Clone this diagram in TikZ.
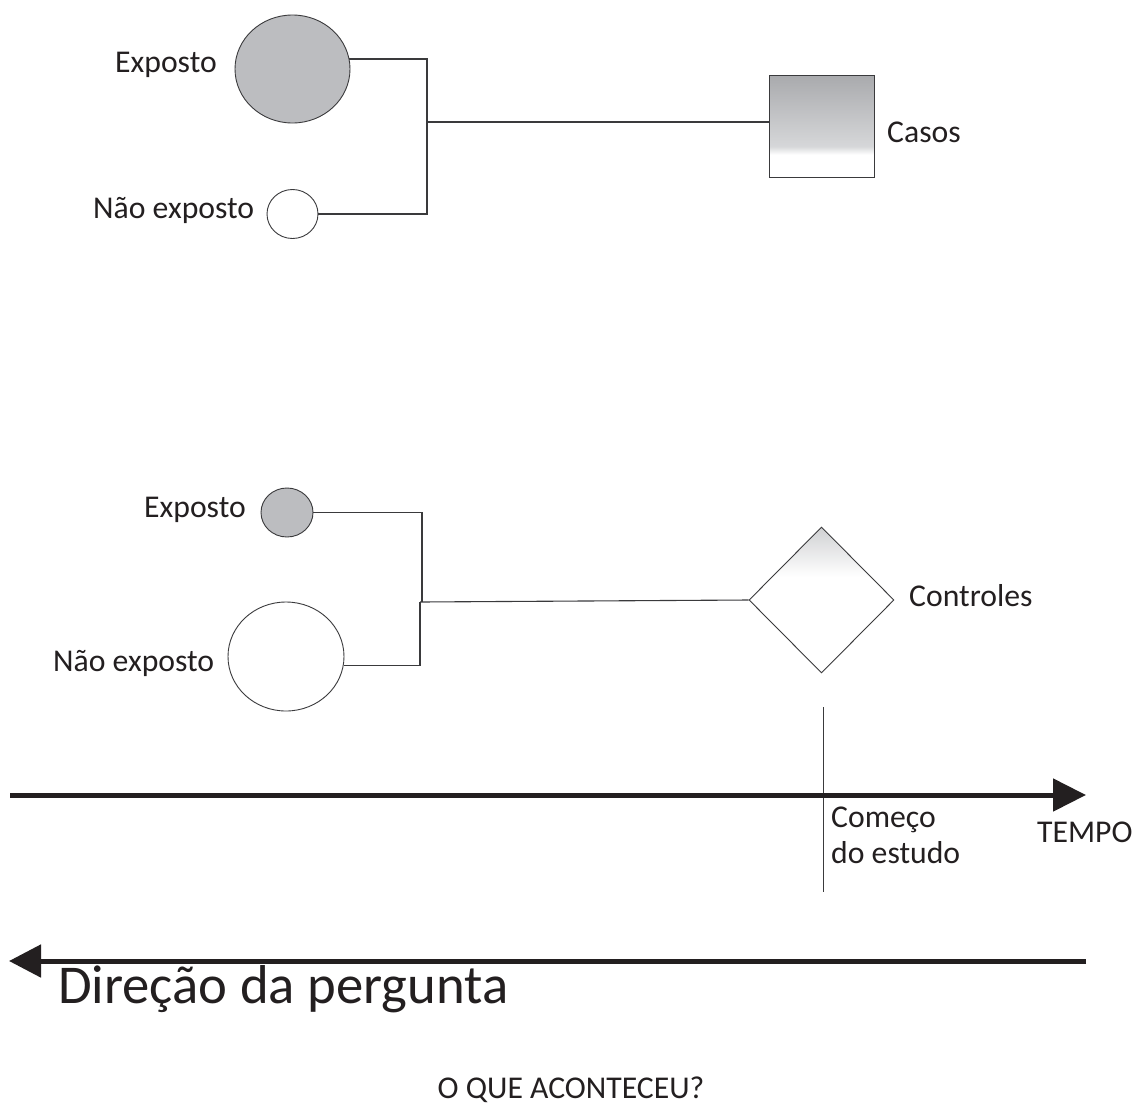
\documentclass[tikz,border=0pt]{standalone}
\usepackage{fontspec}
\setmainfont{Carlito}
\usetikzlibrary{shapes.geometric,arrows.meta}
\definecolor{fillgray}{HTML}{BCBDC0}
\definecolor{linegray}{HTML}{3A3A3C}
\definecolor{ink}{HTML}{231F20}
\definecolor{shadetop}{HTML}{A9AAAD}
\definecolor{shademid}{HTML}{D6D7D9}
\definecolor{dtop}{HTML}{D0D1D3}
\pgfdeclareverticalshading{casosshade}{100bp}{color(0bp)=(white); color(36bp)=(white); color(40bp)=(shademid); color(75bp)=(shadetop); color(100bp)=(shadetop)}
\pgfdeclareverticalshading{ctrlshade}{100bp}{color(0bp)=(white); color(58bp)=(white); color(75bp)=(dtop); color(100bp)=(dtop)}
\begin{document}
\begin{tikzpicture}[x=1pt,y=-1pt,
  lbl/.style={font=\fontsize{31.7}{38}\selectfont, text=ink, anchor=base west, inner sep=0pt},
  biglbl/.style={font=\fontsize{54.7}{64}\selectfont, text=ink, anchor=base west, inner sep=0pt},
  blob/.style={ellipse, draw=linegray, line width=0.9pt, inner sep=0pt},
  conn/.style={draw=linegray, line width=1.1pt},
  bigarrow/.style={draw=ink, line width=5pt},
]
\useasboundingbox (0,0) rectangle (1132,1106);
\fill[white] (0,0) rectangle (1132,1106);

% ---- top: cases ----
\node[blob, fill=fillgray, minimum width=115pt, minimum height=108pt] (exp1) at (292.5,69) {};
\node[blob, fill=white, minimum width=51pt, minimum height=49pt] (nexp1) at (292.5,214) {};
\node[draw=linegray, line width=0.9pt, shade, shading=casosshade, minimum width=105pt, minimum height=102pt, inner sep=0pt] (casos) at (821.5,126) {};
\node[lbl] (lexp1) at (115,72) {Exposto};
\node[lbl] (lnexp1) at (93,218) {Não exposto};
\node[lbl] (lcasos) at (887,142) {Casos};
\coordinate (j1) at (427,122);
\draw[conn] (exp1.10) -| (j1);
\draw[conn] (nexp1.east) -| (j1);
\draw[conn] (j1) -- (j1 -| casos.west);

% ---- bottom: controls ----
\node[blob, fill=fillgray, minimum width=52pt, minimum height=49pt] (exp2) at (287,512.5) {};
\node[blob, fill=white, minimum width=116pt, minimum height=109pt] (nexp2) at (286,656.5) {};
\node[diamond, draw=linegray, line width=0.9pt, shade, shading=ctrlshade, minimum width=145pt, minimum height=146pt, inner sep=0pt] (ctrl) at (821.5,600) {};
\node[lbl] (lexp2) at (144,517) {Exposto};
\node[lbl] (lnexp2) at (53,671) {Não exposto};
\node[lbl] (lctrl) at (909,606) {Controles};
\coordinate (j2a) at (422,602);
\coordinate (j2b) at (420,602);
\draw[conn] (exp2.east) -| (j2a);
\draw[conn] (nexp2.-9) -| (j2b);
\draw[conn] (j2b) -- (ctrl.west);

% ---- time axis ----
\coordinate (st0) at (823,707);
\coordinate (st1) at (823,892);
\draw[conn, line width=0.9pt] (st0) -- (st1);
\coordinate (t0) at (10,795);
\coordinate (t1) at (1086,795);
\draw[bigarrow, -{Triangle[length=33pt,width=32pt]}] (t0) -- (t1);
\node[lbl] (lcom1) at (831,827) {Começo};
\node[lbl] (lcom2) at (831,863) {do estudo};
\node[lbl] (ltempo) at (1037,842) {TEMPO};

% ---- question direction ----
\coordinate (q0) at (1086,961);
\coordinate (q1) at (9,961);
\draw[bigarrow, -{Triangle[length=32pt,width=32pt]}] (q0) -- (q1);
\node[biglbl] (ldir) at (58,1003) {Direção da pergunta};
\node[lbl, anchor=base] (lwhat) at (571,1098) {O QUE ACONTECEU?};
\end{tikzpicture}
\end{document}
